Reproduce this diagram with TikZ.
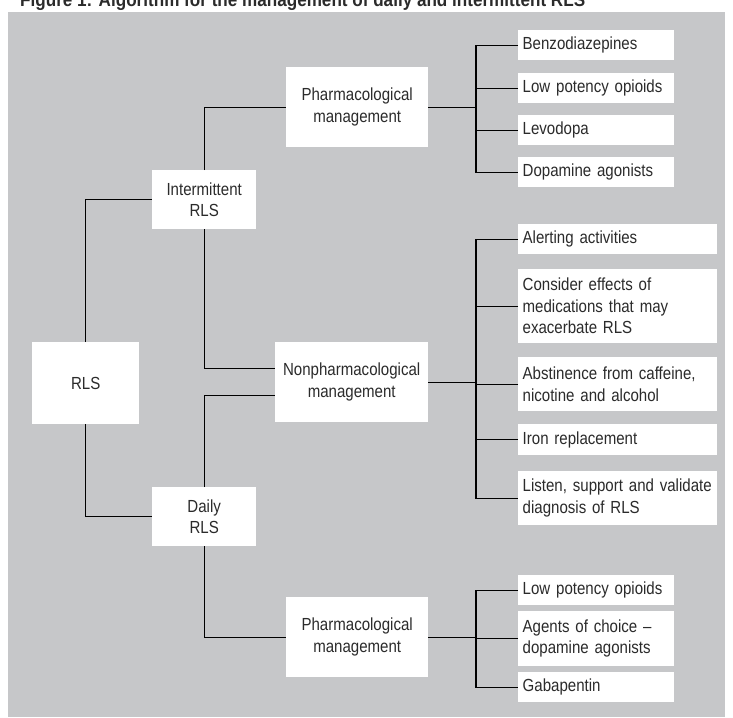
\documentclass[tikz,border=0pt]{standalone}
\usepackage{fontspec}
\setmainfont{Liberation Sans}[FakeStretch=0.86]
\newfontfamily\titlefont{Liberation Sans}[FakeStretch=0.9]
\definecolor{bggrey}{HTML}{C6C7C9}
\definecolor{txt}{HTML}{2B2B2B}
\begin{document}
\begin{tikzpicture}[x=1pt,y=-1pt,
  box/.style={fill=white, draw=none, text=txt, font=\fontsize{17.5}{21.5}\selectfont,
              inner sep=0pt, align=center, anchor=north west},
  leaf/.style={box, align=left, inner xsep=4.5pt, inner ysep=0pt},
  link/.style={draw=black, line width=1.3pt}]
\useasboundingbox (0,0) rectangle (733,717);
\fill[bggrey] (8,12) rectangle (725,717);
\node[anchor=base west, font=\titlefont\bfseries\fontsize{19}{20}\selectfont, text=txt, inner sep=0pt] (title) at (20,7) {Figure 1: Algorithm for the management of daily and intermittent RLS};

% main nodes
\node[box, minimum width=107pt, minimum height=82pt] (rls) at (32,342) {RLS};
\node[box, minimum width=104pt, minimum height=59pt] (int) at (152,170) {Intermittent\\RLS};
\node[box, minimum width=104pt, minimum height=59pt] (daily) at (152,487) {Daily\\RLS};
\node[box, minimum width=142pt, minimum height=80pt] (p1) at (286,67) {Pharmacological\\management};
\node[box, minimum width=153pt, minimum height=80pt] (np) at (275,342) {Nonpharmacological\\management};
\node[box, minimum width=142pt, minimum height=80pt] (p2) at (286,597) {Pharmacological\\management};

% top leaves
\node[leaf, text width=147pt, minimum height=30pt] (b1) at (518,30) {Benzodiazepines};
\node[leaf, text width=147pt, minimum height=30pt] (b2) at (518,73) {Low potency opioids};
\node[leaf, text width=147pt, minimum height=30pt] (b3) at (518,115) {Levodopa};
\node[leaf, text width=147pt, minimum height=30pt] (b4) at (518,157) {Dopamine agonists};

% middle leaves
\node[leaf, text width=190pt, minimum height=30pt] (m1) at (518,224) {Alerting activities};
\node[leaf, text width=190pt, minimum height=74pt] (m2) at (518,269) {Consider effects of\\medications that may\\exacerbate RLS};
\node[leaf, text width=190pt, minimum height=54pt] (m3) at (518,357) {Abstinence from caffeine,\\nicotine and alcohol};
\node[leaf, text width=190pt, minimum height=31pt] (m4) at (518,424) {Iron replacement};
\node[leaf, text width=190pt, minimum height=54pt] (m5) at (518,471) {Listen, support and validate\\diagnosis of RLS};

% bottom leaves
\node[leaf, text width=147pt, minimum height=30pt] (c1) at (518,575) {Low potency opioids};
\node[leaf, text width=147pt, minimum height=55pt] (c2) at (518,611) {Agents of choice --\\dopamine agonists};
\node[leaf, text width=147pt, minimum height=30pt] (c3) at (518,672) {Gabapentin};

\coordinate (tx) at (476,0);

% connectors
\draw[link] (rls.north) |- (int.west);
\draw[link] (rls.south) |- (daily.west);
\draw[link] (int.north) |- (p1.west);
\draw[link] (int.south) |- ([yshift=13.5pt]np.west);
\draw[link] (daily.north) |- ([yshift=-13.5pt]np.west);
\draw[link] (daily.south) |- (p2.west);

\draw[link] (p1.east) -- (p1.east -| tx);
\draw[link] (b1.west) -- (b1.west -| tx) -- (b4.west -| tx) -- (b4.west);
\draw[link] (b2.west) -- (b2.west -| tx);
\draw[link] (b3.west) -- (b3.west -| tx);

\draw[link] (np.east) -- (np.east -| tx);
\draw[link] (m1.west) -- (m1.west -| tx) -- (m5.west -| tx) -- (m5.west);
\draw[link] (m2.west) -- (m2.west -| tx);
\draw[link] (m3.west) -- (m3.west -| tx);
\draw[link] (m4.west) -- (m4.west -| tx);

\draw[link] (p2.east) -- (p2.east -| tx);
\draw[link] (c1.west) -- (c1.west -| tx) -- (c3.west -| tx) -- (c3.west);
\draw[link] (c2.west) -- (c2.west -| tx);
\end{tikzpicture}
\end{document}
